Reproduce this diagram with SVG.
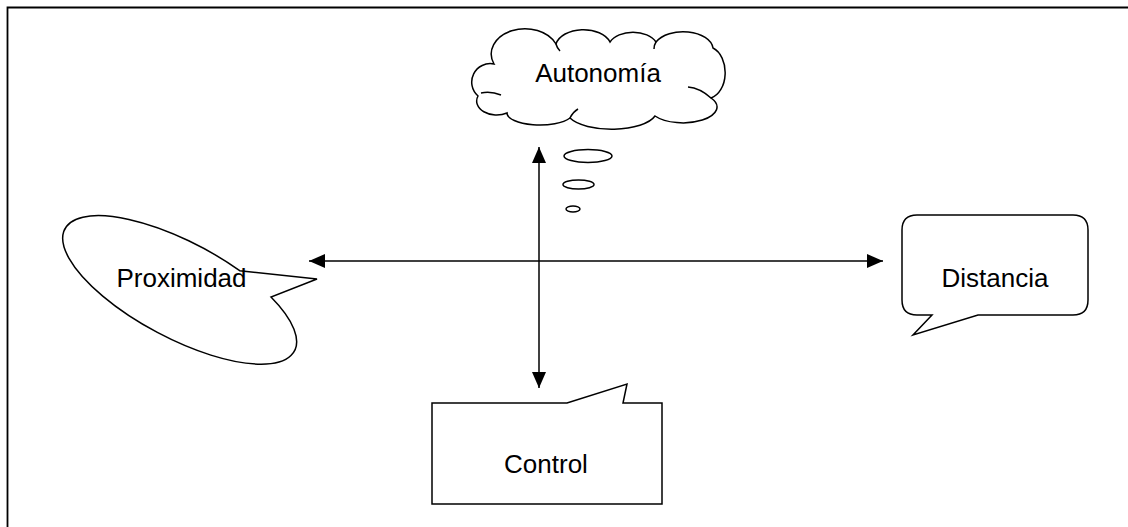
<svg xmlns="http://www.w3.org/2000/svg" width="1128" height="527" viewBox="0 0 1128 527">
  <style>
    .shape { fill: #ffffff; stroke: #000000; stroke-width: 1.5; stroke-linejoin: miter; }
    .inner { fill: none; stroke: #000000; stroke-width: 1.5; }
    .label { font-family: "Liberation Sans", Arial, sans-serif; font-size: 26px; fill: #000000; text-anchor: middle; }
    .conn { fill: none; stroke: #000000; stroke-width: 1.5; }
  </style>
  <defs>
    <marker id="head" viewBox="0 0 16 14" refX="16" refY="7" markerWidth="16" markerHeight="14" markerUnits="userSpaceOnUse" orient="auto-start-reverse">
      <path d="M0,0 L16,7 L0,14 Z" fill="#000000"/>
    </marker>
  </defs>

  <rect width="1128" height="527" fill="#ffffff"/>

  <!-- page frame (top and left edges) -->
  <path d="M7.5,527 L7.5,7.5 L1128,7.5" fill="none" stroke="#000000" stroke-width="1.8"/>

  <!-- connectors -->
  <g id="connectors">
    <line class="conn" x1="309" y1="261" x2="883" y2="261" marker-start="url(#head)" marker-end="url(#head)"/>
    <line class="conn" x1="539" y1="147" x2="539" y2="388" marker-start="url(#head)" marker-end="url(#head)"/>
  </g>

  <!-- thought cloud -->
  <g id="autonomia">
    <path class="shape" d="M478,96 A18.5,18.5 0 0 1 494,64 A32,24 0 0 1 556,44 A28,18 0 0 1 610,42 A25,16 0 0 1 656,42 A30,18 0 0 1 713,48 A18,26 0 0 1 711,98 A30,14 0 0 1 655,116 A45,18 0 0 1 570,118 A33,12 0 0 1 507,113 A20,14 0 0 1 478,96 Z"/>
    <path class="inner" d="M481,93 Q491,91 501,95"/>
    <path class="inner" d="M711,98 Q700,88 688,87"/>
    <path class="inner" d="M570,118 Q573,112 578,109"/>
    <path class="inner" d="M556,44 Q557,48 560,51"/>
    <path class="inner" d="M656,42 Q654,45 654,49"/>
    <ellipse class="shape" cx="588" cy="156" rx="24" ry="6.5"/>
    <ellipse class="shape" cx="578.5" cy="184.5" rx="15.5" ry="4.5"/>
    <ellipse class="shape" cx="573" cy="209" rx="7" ry="3"/>
    <text class="label" x="598" y="82">Autonomía</text>
  </g>

  <!-- oval speech bubble -->
  <g id="proximidad">
    <path class="shape" d="M271,297 A130,48 28 1 1 239.7,270.7 L317,279 Z"/>
    <text class="label" x="181.5" y="287">Proximidad</text>
  </g>

  <!-- rounded speech bubble -->
  <g id="distancia">
    <path class="shape" d="M917,215 L1073,215 Q1088,215 1088,230 L1088,300 Q1088,315 1073,315 L978,315 L913,335 L932,315 L917,315 Q902,315 902,300 L902,230 Q902,215 917,215 Z"/>
    <text class="label" x="995" y="287">Distancia</text>
  </g>

  <!-- rectangular callout -->
  <g id="control">
    <path class="shape" d="M432,403 L567,403 L627,384 L623,403 L662,403 L662,504 L432,504 Z"/>
    <text class="label" x="546" y="473">Control</text>
  </g>
</svg>
